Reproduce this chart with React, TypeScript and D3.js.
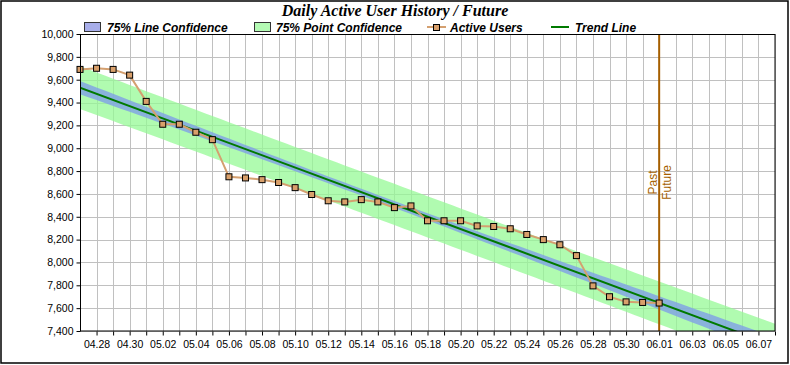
import React, { useEffect, useRef } from "react";
import * as d3 from "d3";

// daily active users, one value per day starting 04.27
const startDay = new Date(2012, 3, 27);
const endDay = new Date(2012, 5, 8);
const futureDay = new Date(2012, 5, 1);
const activeUsers = [
  9690, 9700, 9690, 9640, 9410, 9210, 9210, 9140, 9075, 8750, 8740, 8725,
  8700, 8655, 8595, 8540, 8530, 8550, 8530, 8480, 8495, 8365, 8365, 8365,
  8320, 8315, 8295, 8245, 8200, 8155, 8060, 7795, 7700, 7655, 7650, 7645,
];
const yTicks = [7400, 7600, 7800, 8000, 8200, 8400, 8600, 8800, 9000, 9200, 9400, 9600, 9800, 10000];
const tValue75 = 1.168; // two-sided 75%, df = n - 2
const legendLabels = ["75% Line Confidence", "75% Point Confidence", "Active Users", "Trend Line"];

const W = 790,
  H = 365;
const left = 80,
  right = 775,
  top = 34,
  bottom = 331;

export default function App() {
  const ref = useRef<SVGSVGElement>(null);

  useEffect(() => {
    const svg = d3.select(ref.current);
    svg.selectAll("*").remove();

    const data = activeUsers.map((v, i) => ({ date: d3.timeDay.offset(startDay, i), i, v }));

    const x = d3.scaleTime().domain([startDay, endDay]).range([left, right]);
    const y = d3.scaleLinear().domain([7400, 10000]).range([bottom, top]);

    // least squares trend and confidence bands
    const n = data.length;
    const mx = d3.mean(data, (d) => d.i)!;
    const my = d3.mean(data, (d) => d.v)!;
    const sxx = d3.sum(data, (d) => (d.i - mx) ** 2);
    const slope = d3.sum(data, (d) => (d.i - mx) * (d.v - my)) / sxx;
    const icpt = my - slope * mx;
    const s = Math.sqrt(d3.sum(data, (d) => (d.v - icpt - slope * d.i) ** 2) / (n - 2));
    const lastIdx = d3.timeDay.count(startDay, endDay);
    const steps = d3.range(0, lastIdx + 0.01, 0.5);
    const fit = (k) => icpt + slope * k;
    const lineHalf = (k) => tValue75 * s * Math.sqrt(1 / n + (k - mx) ** 2 / sxx);
    const pointHalf = (k) => tValue75 * s * Math.sqrt(1 + 1 / n + (k - mx) ** 2 / sxx);
    const kx = (k) => x(d3.timeHour.offset(startDay, k * 24));

    svg.append("rect").attr("x", 1).attr("y", 1).attr("width", W - 3).attr("height", H - 3)
      .attr("fill", "#fff").attr("stroke", "#000").attr("stroke-width", 1.5);

    svg.append("defs").append("clipPath").attr("id", "plot")
      .append("rect").attr("x", left).attr("y", top).attr("width", right - left).attr("height", bottom - top);

    // grid
    const days = d3.timeDay.range(startDay, d3.timeDay.offset(endDay, 1));
    const grid = svg.append("g").attr("stroke", "#c0c0c0").attr("stroke-width", 1);
    days.forEach((d) => {
      const px = Math.round(x(d)) + 0.5;
      grid.append("line").attr("x1", px).attr("x2", px).attr("y1", top).attr("y2", bottom);
    });
    yTicks.forEach((t) => {
      const py = Math.round(y(t)) + 0.5;
      grid.append("line").attr("x1", left).attr("x2", right).attr("y1", py).attr("y2", py);
    });

    const plot = svg.append("g").attr("clip-path", "url(#plot)");
    const band = (half) =>
      d3.area<number>().x((k) => kx(k)).y0((k) => y(fit(k) - half(k))).y1((k) => y(fit(k) + half(k)));

    plot.append("path").datum(steps).attr("d", band(pointHalf))
      .attr("fill", "rgb(150,250,150)").attr("opacity", 0.75);
    plot.append("path").datum(steps).attr("d", band(lineHalf))
      .attr("fill", "rgb(128,160,230)").attr("opacity", 0.8);
    plot.append("path").datum([0, lastIdx]).attr("fill", "none").attr("stroke", "#007a00").attr("stroke-width", 2)
      .attr("d", d3.line<number>().x((k) => kx(k)).y((k) => y(fit(k))));

    // past / future marker
    const fx = x(futureDay);
    svg.append("line").attr("x1", fx).attr("x2", fx).attr("y1", top).attr("y2", bottom)
      .attr("stroke", "#a65f00").attr("stroke-width", 2);
    const my2 = (top + bottom) / 2;
    svg.append("text").attr("transform", `translate(${fx - 2},${my2}) rotate(-90)`)
      .attr("text-anchor", "middle").attr("fill", "#a65f00")
      .style("font", "12px 'Liberation Sans', Arial, sans-serif").text("Past");
    svg.append("text").attr("transform", `translate(${fx + 12},${my2}) rotate(-90)`)
      .attr("text-anchor", "middle").attr("fill", "#a65f00")
      .style("font", "12px 'Liberation Sans', Arial, sans-serif").text("Future");

    // active users
    plot.append("path").datum(data).attr("fill", "none").attr("stroke", "#d4a070").attr("stroke-width", 2)
      .attr("d", d3.line<any>().x((d) => x(d.date)).y((d) => y(d.v)));
    svg.append("g").selectAll("rect").data(data).join("rect")
      .attr("x", (d) => x(d.date) - 3).attr("y", (d) => y(d.v) - 3)
      .attr("width", 6).attr("height", 6)
      .attr("fill", "#d9a06b").attr("stroke", "#000").attr("stroke-width", 1);

    // plot frame
    svg.append("rect").attr("x", left + 0.5).attr("y", top + 0.5).attr("width", right - left - 0.5)
      .attr("height", bottom - top - 0.5).attr("fill", "none").attr("stroke", "#000").attr("stroke-width", 1);

    // axes
    const yAxis = svg.append("g").attr("transform", `translate(${left + 0.5},0)`)
      .call(d3.axisLeft(y).tickValues(yTicks).tickFormat(d3.format(",")).tickSizeInner(4).tickSizeOuter(0));
    const xAxis = svg.append("g").attr("transform", `translate(0,${bottom + 0.5})`)
      .call(
        d3.axisBottom(x).tickValues(days.slice(1)).tickSizeInner(4).tickSizeOuter(0).tickPadding(5)
          .tickFormat((d, i) => (i % 2 === 0 ? d3.timeFormat("%m.%d")(d as Date) : ""))
      );
    [yAxis, xAxis].forEach((a) => {
      a.select(".domain").remove();
      a.selectAll("text").style("font", "10.5px 'Liberation Sans', Arial, sans-serif").attr("fill", "#000");
      a.selectAll("line").attr("stroke", "#000");
    });

    // title
    svg.append("text").attr("x", 395).attr("y", 16).attr("text-anchor", "middle")
      .style("font", "italic bold 16px 'Liberation Serif', 'Times New Roman', serif").text("Daily Active User History / Future");

    // legend
    const lg = svg.append("g").style("font", "italic bold 12px 'Liberation Sans', Arial, sans-serif");
    lg.append("rect").attr("x", 84.5).attr("y", 22.5).attr("width", 16).attr("height", 9)
      .attr("fill", "#a8aeea").attr("stroke", "#333");
    lg.append("text").attr("x", 107).attr("y", 32).text(legendLabels[0]);
    lg.append("rect").attr("x", 254.5).attr("y", 22.5).attr("width", 16).attr("height", 9)
      .attr("fill", "#b4fab4").attr("stroke", "#333");
    lg.append("text").attr("x", 276).attr("y", 32).text(legendLabels[1]);
    lg.append("line").attr("x1", 427).attr("x2", 446).attr("y1", 27).attr("y2", 27)
      .attr("stroke", "#d4a070").attr("stroke-width", 2);
    lg.append("rect").attr("x", 433.5).attr("y", 24.5).attr("width", 6).attr("height", 6)
      .attr("fill", "#d9a06b").attr("stroke", "#000");
    lg.append("text").attr("x", 450).attr("y", 32).text(legendLabels[2]);
    lg.append("line").attr("x1", 551).attr("x2", 569).attr("y1", 27).attr("y2", 27)
      .attr("stroke", "#007a00").attr("stroke-width", 2);
    lg.append("text").attr("x", 575).attr("y", 32).text(legendLabels[3]);
  }, []);

  return (
    <svg ref={ref} width={W} height={H} style={{ position: "absolute", left: 0, top: 0 }} />
  );
}
